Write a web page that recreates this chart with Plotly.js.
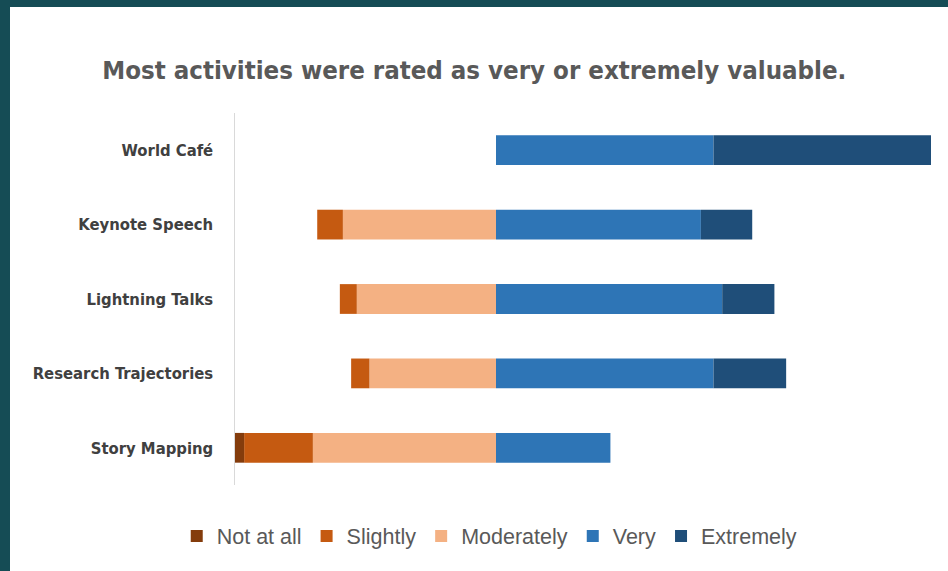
<!DOCTYPE html>
<html>
<head>
<meta charset="utf-8">
<script src="https://cdn.plot.ly/plotly-3.0.1.min.js"></script>
<style>
  html, body { margin: 0; padding: 0; background: #ffffff; }
  #frame {
    width: 948px; height: 571px; box-sizing: border-box;
    border-top: 7px solid #154c55; border-left: 10px solid #154c55;
    background: #ffffff; overflow: hidden;
  }
  #chart { width: 938px; height: 564px; }
</style>
</head>
<body>
<div id="frame"><div id="chart"></div></div>
<script>
// Activities, top to bottom
const activities = ["World Café", "Keynote Speech", "Lightning Talks", "Research Trajectories", "Story Mapping"];
// Share of respondents (%) per rating
const notAtAll   = [0, 0, 0, 0, 5.3];
const slightly   = [0, 5.9, 3.9, 4.2, 15.8];
const moderately = [0, 35.2, 32.0, 29.1, 42.1];
const very       = [50.0, 47.1, 52.0, 50.0, 26.3];
const extremely  = [50.0, 11.8, 12.0, 16.7, 0];

const ratingNames = ["Not at all", "Slightly", "Moderately", "Very", "Extremely"];
const colors = ["#843c0c", "#c55a11", "#f4b183", "#2e75b6", "#1f4e79"];

function neg(a) { return a.map(v => -v); }

function mk(name, vals, color, rank) {
  return {
    type: "bar", orientation: "h", name: name,
    y: activities, x: vals,
    marker: { color: color, line: { width: 0 } },
    legendrank: rank, hoverinfo: "name+x"
  };
}

// Negative side stacks outward from zero in trace order
const traces = [
  mk(ratingNames[2], neg(moderately), colors[2], 3),
  mk(ratingNames[1], neg(slightly), colors[1], 2),
  mk(ratingNames[0], neg(notAtAll), colors[0], 1),
  mk(ratingNames[3], very, colors[3], 4),
  mk(ratingNames[4], extremely, colors[4], 5)
];

const narrow = "'Liberation Sans Narrow', 'DejaVu Sans Condensed', 'Arial Narrow', sans-serif";

const layout = {
  width: 938, height: 564,
  margin: { l: 225, r: 17, t: 106, b: 86 },
  paper_bgcolor: "#ffffff", plot_bgcolor: "#ffffff",
  barmode: "relative", bargap: 0.6,
  title: {
    text: "<b>Most activities were rated as very or extremely valuable.</b>",
    font: { family: narrow, size: 25.6, color: "#595959" },
    x: 0.495, xref: "container", xanchor: "center",
    y: 1 - 63 / 564, yref: "container", yanchor: "middle"
  },
  xaxis: {
    range: [-60, 100], showticklabels: false, showgrid: false,
    zeroline: false, showline: false, fixedrange: true
  },
  yaxis: {
    autorange: "reversed", showgrid: false, zeroline: false,
    showline: true, linecolor: "#d9d9d9", linewidth: 1.5,
    ticks: "", ticklabelstandoff: 17,
    tickfont: { family: narrow, size: 16.5, color: "#404040", weight: "bold" }
  },
  showlegend: true,
  legend: {
    orientation: "h", x: 0.366, xanchor: "center", y: -0.137, yanchor: "middle",
    font: { family: "'Liberation Sans', Arial, sans-serif", size: 21.5, color: "#595959" },
    traceorder: "normal", itemclick: false
  }
};

Plotly.newPlot("chart", traces, layout, { displayModeBar: false, staticPlot: true });
</script>
</body>
</html>
